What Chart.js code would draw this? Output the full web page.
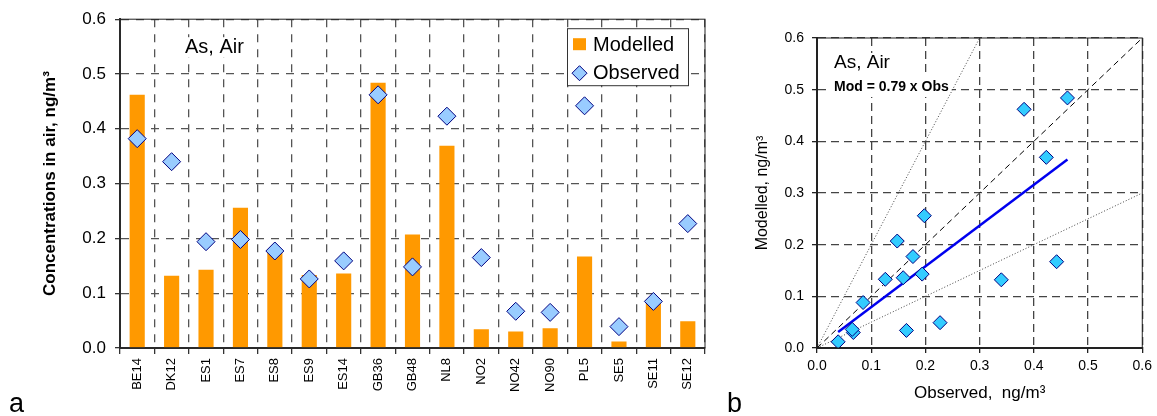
<!DOCTYPE html>
<html>
<head>
<meta charset="utf-8">
<script src="https://cdn.jsdelivr.net/npm/chart.js@4.4.1/dist/chart.umd.min.js"></script>
<style>
  body { margin: 0; background: #fff; width: 1157px; height: 416px; position: relative; overflow: hidden; }
  canvas { position: absolute; top: 0; }
  #chartA { left: 0; }
  #chartB { left: 740px; }
  .panel { position: absolute; font-family: 'Liberation Sans', Arial, sans-serif; font-size: 27px; line-height: 1; color: #000; }
</style>
</head>
<body>
<canvas id="chartA" width="720" height="416"></canvas>
<canvas id="chartB" width="417" height="416"></canvas>
<div class="panel" style="left:9px; top:390px;">a</div>
<div class="panel" style="left:727px; top:390px;">b</div>

<script>
// station codes and concentrations (ng/m3)
var sites = ["BE14", "DK12", "ES1", "ES7", "ES8", "ES9", "ES14", "GB36", "GB48", "NL8", "NO2", "NO42", "NO90", "PL5", "SE5", "SE11", "SE12"];
var modelled = [0.462, 0.132, 0.143, 0.256, 0.177, 0.133, 0.136, 0.484, 0.207, 0.369, 0.034, 0.030, 0.036, 0.167, 0.012, 0.088, 0.049];
var observed = [0.382, 0.340, 0.194, 0.198, 0.177, 0.126, 0.159, 0.462, 0.148, 0.423, 0.165, 0.067, 0.065, 0.442, 0.039, 0.085, 0.227];

// lines on the scatter plot
var fitLine = [{x: 0.039, y: 0.031}, {x: 0.462, y: 0.365}];
var oneToOne = [{x: 0, y: 0}, {x: 0.6, y: 0.6}];
var twoToOne = [{x: 0, y: 0}, {x: 0.3, y: 0.6}];
var oneToTwo = [{x: 0, y: 0}, {x: 0.6, y: 0.3}];

var fitLabel = "Mod = 0.79 x Obs";
var subject = "As, Air";

Chart.defaults.font.family = "'Liberation Sans', Arial, sans-serif";
Chart.defaults.color = "#000";

function oneDecimal(v) {
  return Number(v).toFixed(1);
}

// black frame round the plot area
var framePlugin = {
  id: "frame",
  afterDraw: function(chart) {
    var a = chart.chartArea;
    var c = chart.ctx;
    c.save();
    c.strokeStyle = "#222";
    c.lineWidth = 1;
    c.strokeRect(a.left, a.top, a.right - a.left, a.bottom - a.top);
    c.restore();
  }
};

// text on a white patch, so the grid stops under it
function boxedText(c, txt, x, y, font) {
  c.font = font;
  var w = c.measureText(txt).width;
  c.fillStyle = "#fff";
  c.fillRect(x - 3, y - 10, w + 6, 20);
  c.fillStyle = "#000";
  c.fillText(txt, x, y);
}

function diamond(c, x, y, r) {
  c.beginPath();
  c.moveTo(x, y - r);
  c.lineTo(x + r, y);
  c.lineTo(x, y + r);
  c.lineTo(x - r, y);
  c.closePath();
  c.fill();
  c.stroke();
}

// chart a : text + boxed legend
var barExtras = {
  id: "barExtras",
  beforeDatasetsDraw: function(chart) {
    var a = chart.chartArea;
    var c = chart.ctx;
    c.save();
    c.textBaseline = "middle";
    boxedText(c, subject, a.left + 65, a.top + 28, "20px 'Liberation Sans', Arial, sans-serif");
    c.restore();
  },
  afterDraw: function(chart) {
    var a = chart.chartArea;
    var c = chart.ctx;
    var ds = chart.data.datasets;
    c.save();
    c.textBaseline = "middle";
    c.font = "20px 'Liberation Sans', Arial, sans-serif";

    var bx = a.right - 138, by = a.top + 9;
    c.fillStyle = "#fff";
    c.fillRect(bx, by, 121, 57);
    c.strokeStyle = "#333";
    c.lineWidth = 1;
    c.strokeRect(bx + 0.5, by + 0.5, 121, 57);

    c.fillStyle = ds[0].backgroundColor;
    c.fillRect(bx + 6, by + 10, 13, 12);
    c.fillStyle = ds[1].pointBackgroundColor;
    c.strokeStyle = ds[1].pointBorderColor;
    diamond(c, bx + 12.5, by + 45, 7.5);

    c.fillStyle = "#000";
    c.fillText(ds[0].label, bx + 26, by + 17);
    c.fillText(ds[1].label, bx + 26, by + 45);
    c.restore();
  }
};

var ctxA = document.getElementById("chartA").getContext("2d");
var chartA = new Chart(ctxA, {
  data: {
    labels: sites,
    datasets: [{
      type: "bar",
      label: "Modelled",
      data: modelled,
      backgroundColor: "#FF9900",
      barPercentage: 0.44,
      categoryPercentage: 1,
      order: 2
    }, {
      type: "line",
      label: "Observed",
      data: observed,
      showLine: false,
      pointStyle: "rectRot",
      pointRadius: 9,
      pointBackgroundColor: "#99CCFF",
      pointBorderColor: "#000080",
      pointBorderWidth: 1,
      order: 1
    }]
  },
  options: {
    responsive: false,
    animation: false,
    layout: { padding: { left: 0, right: 15, top: 18, bottom: 0 } },
    plugins: { legend: { display: false }, tooltip: { enabled: false } },
    scales: {
      x: {
        offset: true,
        grid: { offset: true, color: "#555", lineWidth: 1.3, tickLength: 6, tickBorderDash: [], tickColor: "#333" },
        border: { color: "#333", width: 2, dash: [8, 7] },
        ticks: { minRotation: 90, maxRotation: 90, padding: 4, font: { size: 13 } },
        afterFit: function(s) { s.height = 68; }
      },
      y: {
        min: 0,
        max: 0.6,
        grid: { color: "#555", lineWidth: 1.3, tickLength: 5, tickBorderDash: [], tickColor: "#333" },
        border: { color: "#333", width: 2, dash: [8, 7] },
        ticks: { stepSize: 0.1, padding: 9, font: { size: 17 }, callback: oneDecimal },
        title: {
          display: true,
          text: "Concentrations in air, ng/m³",
          font: { size: 17, weight: "bold" },
          padding: { top: 40, bottom: 0 }
        },
        afterFit: function(s) { s.width = 120; }
      }
    }
  },
  plugins: [framePlugin, barExtras]
});

// chart b : observed against modelled
var pairs = [];
for (var i = 0; i < sites.length; i++) {
  pairs.push({x: observed[i], y: modelled[i]});
}

var scatterExtras = {
  id: "scatterExtras",
  beforeDatasetsDraw: function(chart) {
    var a = chart.chartArea;
    var c = chart.ctx;
    c.save();
    c.textBaseline = "middle";
    boxedText(c, subject, a.left + 17, a.top + 25, "19px 'Liberation Sans', Arial, sans-serif");
    boxedText(c, fitLabel, a.left + 17, a.top + 49, "bold 14px 'Liberation Sans', Arial, sans-serif");
    c.restore();
  }
};

var ctxB = document.getElementById("chartB").getContext("2d");
var chartB = new Chart(ctxB, {
  type: "scatter",
  data: {
    datasets: [{
      label: "Stations",
      data: pairs,
      pointStyle: "rectRot",
      pointRadius: 7,
      backgroundColor: "#33CCFF",
      borderColor: "#000080",
      borderWidth: 1
    }, {
      label: "Fit",
      data: fitLine,
      showLine: true,
      borderColor: "#0000EE",
      borderWidth: 2.5,
      pointRadius: 0
    }, {
      label: "1:1",
      data: oneToOne,
      showLine: true,
      borderColor: "#000",
      borderWidth: 1,
      borderDash: [6, 4],
      pointRadius: 0
    }, {
      label: "2:1",
      data: twoToOne,
      showLine: true,
      borderColor: "#444",
      borderWidth: 1,
      borderDash: [1, 2],
      pointRadius: 0
    }, {
      label: "1:2",
      data: oneToTwo,
      showLine: true,
      borderColor: "#444",
      borderWidth: 1,
      borderDash: [1, 2],
      pointRadius: 0
    }]
  },
  options: {
    responsive: false,
    animation: false,
    layout: { padding: { left: 0, right: 14, top: 38, bottom: 0 } },
    plugins: { legend: { display: false }, tooltip: { enabled: false } },
    scales: {
      x: {
        type: "linear",
        min: 0,
        max: 0.6,
        grid: { color: "#444", lineWidth: 1.3, tickLength: 5, tickBorderDash: [], tickColor: "#222" },
        border: { color: "#222", width: 2, dash: [8, 5] },
        ticks: { stepSize: 0.1, padding: 5, font: { size: 14 }, callback: oneDecimal },
        title: {
          display: true,
          text: "Observed,  ng/m³",
          font: { size: 17 },
          padding: { top: 0, bottom: 12 }
        },
        afterFit: function(s) { s.height = 68; }
      },
      y: {
        min: 0,
        max: 0.6,
        grid: { color: "#444", lineWidth: 1.3, tickLength: 5, tickBorderDash: [], tickColor: "#222" },
        border: { color: "#222", width: 2, dash: [8, 5] },
        ticks: { stepSize: 0.1, padding: 8, font: { size: 14 }, callback: oneDecimal },
        title: {
          display: true,
          text: "Modelled, ng/m³",
          font: { size: 16 },
          padding: { top: 13, bottom: 0 }
        },
        afterFit: function(s) { s.width = 77; }
      }
    }
  },
  plugins: [framePlugin, scatterExtras]
});
</script>
</body>
</html>
